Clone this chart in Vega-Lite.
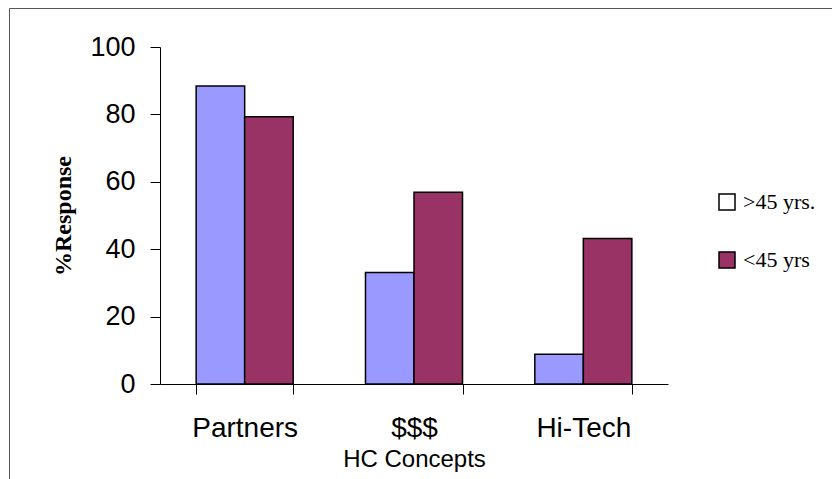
{
  "$schema": "https://vega.github.io/schema/vega-lite/v6.json",
  "autosize": "none",
  "padding": {"left": 9, "top": 8, "right": 0, "bottom": 0},
  "width": 823,
  "height": 471,
  "background": "white",
  "config": {
    "view": {"stroke": "#555555", "strokeWidth": 1},
    "axis": {"domainColor": "black", "tickColor": "black", "labelColor": "black", "titleColor": "black", "grid": false, "domainWidth": 1, "tickWidth": 1}
  },
  "data": {
    "values": [
      {"concept": "Partners", "group": ">45 yrs.", "pct": 88.4},
      {"concept": "Partners", "group": "<45 yrs", "pct": 79.3},
      {"concept": "$$$", "group": ">45 yrs.", "pct": 33.1},
      {"concept": "$$$", "group": "<45 yrs", "pct": 56.9},
      {"concept": "Hi-Tech", "group": ">45 yrs.", "pct": 8.8},
      {"concept": "Hi-Tech", "group": "<45 yrs", "pct": 43.2}
    ]
  },
  "mark": {"type": "bar", "stroke": "black", "strokeWidth": 1.5},
  "encoding": {
    "x": {
      "field": "concept",
      "type": "nominal",
      "sort": ["Partners", "$$$", "Hi-Tech"],
      "scale": {"range": [151, 659], "paddingInner": 0.427, "paddingOuter": 0.2135},
      "axis": {
        "title": "HC Concepts",
        "orient": "bottom",
        "offset": -95,
        "labelAngle": 0,
        "tickBand": "extent",
        "tickSize": 10,
        "labelPadding": 20,
        "labelFont": "Liberation Sans",
        "labelFontSize": 28,
        "titleFont": "Liberation Sans",
        "titleFontSize": 24,
        "titleFontWeight": "normal",
        "titlePadding": 5
      }
    },
    "xOffset": {
      "field": "group",
      "type": "nominal",
      "sort": [">45 yrs.", "<45 yrs"],
      "scale": {"paddingInner": 0, "paddingOuter": 0}
    },
    "y": {
      "field": "pct",
      "type": "quantitative",
      "scale": {"domain": [0, 100], "nice": false, "range": [376, 39]},
      "axis": {
        "title": "%Response",
        "orient": "left",
        "offset": -151,
        "values": [0, 20, 40, 60, 80, 100],
        "tickSize": 10,
        "labelPadding": 15,
        "labelFont": "Liberation Sans",
        "labelFontSize": 27,
        "titleFont": "Liberation Serif",
        "titleFontSize": 24,
        "titleFontWeight": "bold",
        "titlePadding": 14
      }
    },
    "color": {
      "field": "group",
      "type": "nominal",
      "scale": {"range": ["#993366", "#9999FF"]},
      "legend": null
    },
    "opacity": {
      "field": "group",
      "type": "ordinal",
      "scale": {"domain": [">45 yrs.", "<45 yrs"], "range": [1, 1]},
      "legend": {
        "title": null,
        "orient": "none",
        "legendX": 707,
        "legendY": 183,
        "padding": 0,
        "symbolType": "square",
        "symbolSize": 256,
        "symbolStrokeColor": "black",
        "symbolStrokeWidth": 1.5,
        "labelFont": "Liberation Serif",
        "labelFontSize": 22,
        "labelColor": "black",
        "labelOffset": 5,
        "rowPadding": 36,
        "encoding": {
          "symbols": {
            "fill": {"condition": {"test": "datum.value === '>45 yrs.'", "value": "#ffffff"}, "value": "#993366"},
            "stroke": {"value": "black"},
            "strokeWidth": {"value": 1.5}
          }
        }
      }
    }
  }
}
